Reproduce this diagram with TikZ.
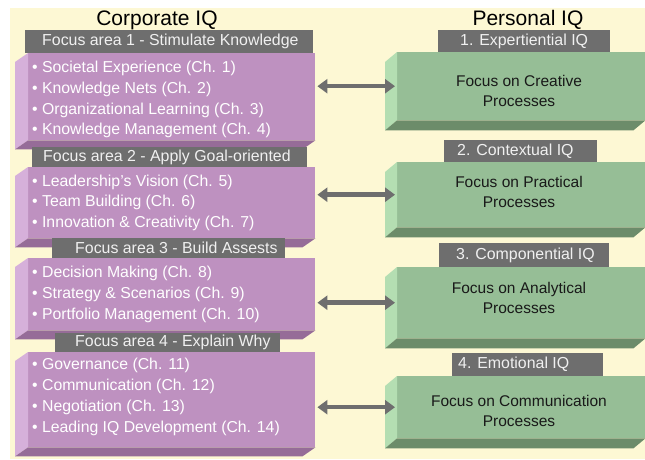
\documentclass[tikz,border=0pt]{standalone}
\usepackage{fontspec}
\setmainfont{Liberation Sans}
\usetikzlibrary{arrows.meta,calc}
\definecolor{cream}{RGB}{253,248,212}
\definecolor{pF}{RGB}{190,145,192}
\definecolor{pL}{RGB}{214,176,218}
\definecolor{pB}{RGB}{150,108,152}
\definecolor{gF}{RGB}{150,190,150}
\definecolor{gL}{RGB}{180,222,178}
\definecolor{gB}{RGB}{108,140,106}
\definecolor{hdrgray}{RGB}{110,110,110}
\definecolor{hdrtext}{RGB}{240,240,240}
\definecolor{arrowgray}{RGB}{110,110,110}
\begin{document}
\begin{tikzpicture}[x=1pt,y=-1pt,
  title/.style={font=\fontsize{21}{24}\selectfont, text=black, inner sep=0pt},
  hdrbox/.style={fill=hdrgray, inner sep=0pt, anchor=north west},
  hdrlabel/.style={font=\fontsize{15.9}{18}\selectfont, text=hdrtext, inner sep=0pt, anchor=west},
  pbox/.style={fill=pF, inner sep=0pt, anchor=north west, minimum width=287pt},
  gbox/.style={fill=gF, inner sep=0pt, anchor=north west, minimum width=248pt},
  itemtext/.style={font=\fontsize{15.8}{18}\selectfont, text=white, inner sep=0pt, anchor=west},
  gtext/.style={font=\fontsize{15.5}{20}\selectfont, text=black!90, inner sep=0pt, align=center},
  conn/.style={draw=arrowgray, line width=4.5pt,
    {Triangle[width=14pt,length=10pt]}-{Triangle[width=14pt,length=10pt]},
    shorten <=2pt, shorten >=2pt}
]
\useasboundingbox (0,0) rectangle (645,459);
\fill[cream] (10,8) rectangle (645,459);

\node[title] (tc) at (157,20) {Corporate IQ};
\node[title] (tp) at (528,20) {Personal IQ};

% ---------- purple box 1
\node[hdrbox, minimum width=288pt, minimum height=23pt] (h1) at (25,30) {};
\node[hdrlabel] (h1t) at (42,41.5) {Focus area 1 - Stimulate Knowledge};
\node[pbox, minimum height=87pt] (p1) at (28,53) {};
\fill[pL] (p1.north west) -- (p1.south west) -- ++(-13,9) -- ($(p1.north west)+(-13,9)$) -- cycle;
\fill[pB] (p1.south west) -- (p1.south east) -- ++(-13,9) -- ($(p1.south west)+(-13,9)$) -- cycle;
\node[itemtext] (p1a) at (32,68) {• Societal Experience (Ch. 1)};
\node[itemtext] (p1b) at (32,89) {• Knowledge Nets (Ch. 2)};
\node[itemtext] (p1c) at (32,110) {• Organizational Learning (Ch. 3)};
\node[itemtext] (p1d) at (32,130) {• Knowledge Management (Ch. 4)};

% ---------- purple box 2
\node[hdrbox, minimum width=275pt, minimum height=20pt] (h2) at (32,147) {};
\node[hdrlabel] (h2t) at (43,157) {Focus area 2 - Apply Goal-oriented};
\node[pbox, minimum height=71pt] (p2) at (28,167) {};
\fill[pL] (p2.north west) -- (p2.south west) -- ++(-13,9) -- ($(p2.north west)+(-13,9)$) -- cycle;
\fill[pB] (p2.south west) -- (p2.south east) -- ++(-13,9) -- ($(p2.south west)+(-13,9)$) -- cycle;
\node[itemtext] (p2a) at (32,182) {• Leadership’s Vision (Ch. 5)};
\node[itemtext] (p2b) at (32,202.5) {• Team Building (Ch. 6)};
\node[itemtext] (p2c) at (32,223) {• Innovation \& Creativity (Ch. 7)};

% ---------- purple box 3
\node[hdrbox, minimum width=233pt, minimum height=20pt] (h3) at (52,238) {};
\node[hdrlabel] (h3t) at (75,248) {Focus area 3 - Build Assests};
\node[pbox, minimum height=72pt] (p3) at (28,258) {};
\fill[pL] (p3.north west) -- (p3.south west) -- ++(-13,9) -- ($(p3.north west)+(-13,9)$) -- cycle;
\fill[pB] (p3.south west) -- (p3.south east) -- ++(-13,9) -- ($(p3.south west)+(-13,9)$) -- cycle;
\node[itemtext] (p3a) at (32,273) {• Decision Making (Ch. 8)};
\node[itemtext] (p3b) at (32,294) {• Strategy \& Scenarios (Ch. 9)};
\node[itemtext] (p3c) at (32,315) {• Portfolio Management (Ch. 10)};

% ---------- purple box 4
\node[hdrbox, minimum width=225pt, minimum height=19pt] (h4) at (55,333) {};
\node[hdrlabel] (h4t) at (75,342.5) {Focus area 4 - Explain Why};
\node[pbox, minimum height=95pt] (p4) at (28,352) {};
\fill[pL] (p4.north west) -- (p4.south west) -- ++(-13,9) -- ($(p4.north west)+(-13,9)$) -- cycle;
\fill[pB] (p4.south west) -- (p4.south east) -- ++(-13,9) -- ($(p4.south west)+(-13,9)$) -- cycle;
\node[itemtext] (p4a) at (32,365) {• Governance (Ch. 11)};
\node[itemtext] (p4b) at (32,386) {• Communication (Ch. 12)};
\node[itemtext] (p4c) at (32,407) {• Negotiation (Ch. 13)};
\node[itemtext] (p4d) at (32,428) {• Leading IQ Development (Ch. 14)};

% ---------- green box 1
\node[hdrbox, minimum width=172pt, minimum height=22pt] (k1) at (438,30) {};
\node[hdrlabel] (k1t) at (460,41) {1. Expertiential IQ};
\node[gbox, minimum height=68pt] (g1) at (397,52) {};
\fill[gL] (g1.north west) -- (g1.south west) -- ++(-12,10) -- ($(g1.north west)+(-12,10)$) -- cycle;
\fill[gB] (g1.south west) -- (g1.south east) -- ++(-12,10) -- ($(g1.south west)+(-12,10)$) -- cycle;
\node[gtext] (g1t) at (519,91) {Focus on Creative\\Processes};

% ---------- green box 2
\node[hdrbox, minimum width=153pt, minimum height=22pt] (k2) at (444,140) {};
\node[hdrlabel] (k2t) at (457,151) {2. Contextual IQ};
\node[gbox, minimum height=65pt] (g2) at (397,162) {};
\fill[gL] (g2.north west) -- (g2.south west) -- ++(-12,10) -- ($(g2.north west)+(-12,10)$) -- cycle;
\fill[gB] (g2.south west) -- (g2.south east) -- ++(-12,10) -- ($(g2.south west)+(-12,10)$) -- cycle;
\node[gtext] (g2t) at (519,191.5) {Focus on Practical\\Processes};

% ---------- green box 3
\node[hdrbox, minimum width=170pt, minimum height=24pt] (k3) at (439,243) {};
\node[hdrlabel] (k3t) at (456,255) {3. Componential IQ};
\node[gbox, minimum height=71pt] (g3) at (397,267) {};
\fill[gL] (g3.north west) -- (g3.south west) -- ++(-12,10) -- ($(g3.north west)+(-12,10)$) -- cycle;
\fill[gB] (g3.south west) -- (g3.south east) -- ++(-12,10) -- ($(g3.south west)+(-12,10)$) -- cycle;
\node[gtext] (g3t) at (519,298) {Focus on Analytical\\Processes};

% ---------- green box 4
\node[hdrbox, minimum width=151pt, minimum height=23pt] (k4) at (452,353) {};
\node[hdrlabel] (k4t) at (458,364.5) {4. Emotional IQ};
\node[gbox, minimum height=62pt] (g4) at (397,376) {};
\fill[gL] (g4.north west) -- (g4.south west) -- ++(-12,10) -- ($(g4.north west)+(-12,10)$) -- cycle;
\fill[gB] (g4.south west) -- (g4.south east) -- ++(-12,10) -- ($(g4.south west)+(-12,10)$) -- cycle;
\node[gtext] (g4t) at (519,411) {Focus on Communication\\Processes};

% ---------- connectors
\draw[conn] (g1.west -| p1.east) -- (g1.west);
\draw[conn] (g2.west -| p2.east) -- (g2.west);
\draw[conn] (g3.west -| p3.east) -- (g3.west);
\draw[conn] (g4.west -| p4.east) -- (g4.west);
\end{tikzpicture}
\end{document}
